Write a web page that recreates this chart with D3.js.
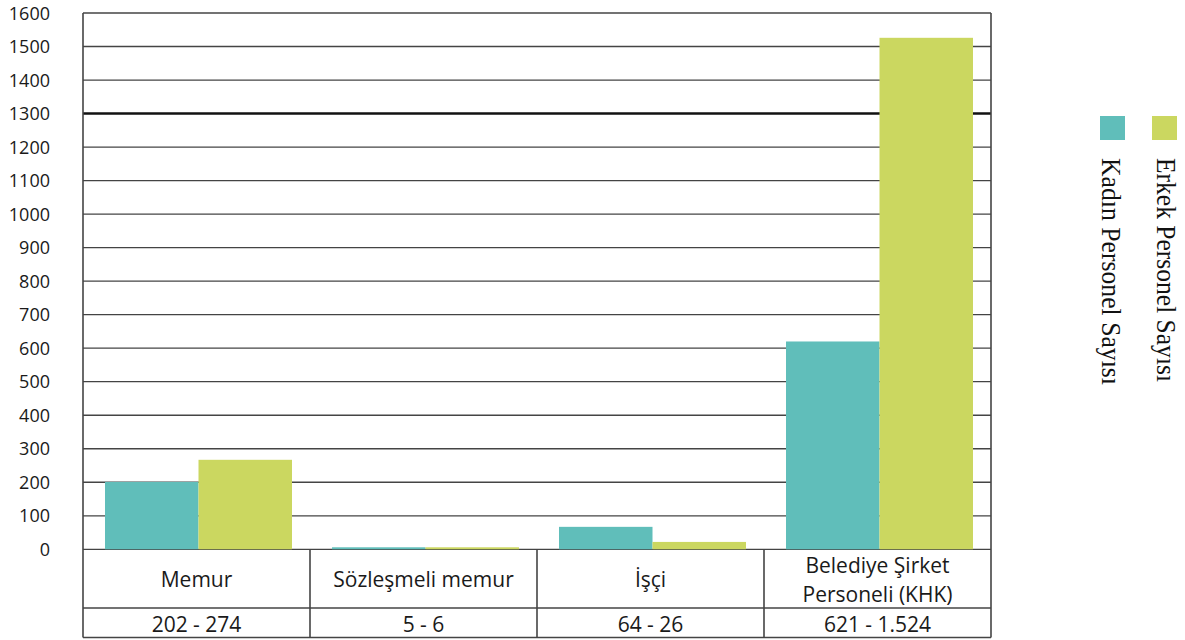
<!DOCTYPE html>
<html>
<head>
<meta charset="utf-8">
<script src="https://cdn.jsdelivr.net/npm/d3@7"></script>
<style>
  html, body { margin: 0; padding: 0; background: #fff; }
  svg { display: block; }
</style>
</head>
<body>
<svg id="chart" width="1185" height="640"></svg>
<script>
const categories = ["Memur", "Sözleşmeli memur", "İşçi", "Belediye Şirket Personeli (KHK)"];
const categoryLines = [["Memur"], ["Sözleşmeli memur"], ["İşçi"], ["Belediye Şirket", "Personeli (KHK)"]];
const kadin = [201, 6, 67, 620];
const erkek = [267, 6, 22, 1526];
const valueLabels = ["202 - 274", "5 - 6", "64 - 26", "621 - 1.524"];
const seriesNames = ["Kadın Personel Sayısı", "Erkek Personel Sayısı"];
const seriesColors = ["#60beba", "#cbd760"];
const yTicks = d3.range(0, 1601, 100);

(function () {
const svg = d3.select("#chart");
const plotLeft = 83, plotRight = 991, plotTop = 13, zeroY = 549.3;
const row1 = 608, row2 = 637.5;
const sans = "'Open Sans', 'Noto Sans', sans-serif";

const y = d3.scaleLinear().domain([0, 1600]).range([zeroY, plotTop]);
const x0 = d3.scaleBand().domain(categories).range([plotLeft, plotRight]).padding(0);
const x1 = d3.scaleBand().domain(seriesNames).range([2, x0.bandwidth() + 2]).paddingInner(0).paddingOuter(0.214);

// gridlines
svg.append("g").selectAll("line").data(yTicks).join("line")
  .attr("x1", plotLeft).attr("x2", plotRight)
  .attr("y1", d => y(d)).attr("y2", d => y(d))
  .attr("stroke", d => d === 1300 ? "#111" : "#444")
  .attr("stroke-width", d => d === 1300 ? 2.4 : 1.3);

// y tick labels
const yAxis = d3.axisLeft(y).tickValues(yTicks).tickSize(0).tickPadding(0).tickFormat(d3.format("d"));
const ya = svg.append("g").attr("transform", "translate(50,0)").call(yAxis);
ya.select(".domain").remove();
ya.selectAll("text").attr("font-family", sans).attr("font-size", 18).attr("fill", "#1a1a1a").attr("dy", "0.34em");

// bars
const data = categories.map((c, i) => ({ cat: c, vals: [kadin[i], erkek[i]] }));
const groups = svg.append("g").selectAll("g").data(data).join("g")
  .attr("transform", d => `translate(${x0(d.cat)},0)`);
groups.selectAll("rect").data(d => d.vals.map((v, j) => ({ s: seriesNames[j], v, j })))
  .join("rect")
  .attr("x", d => x1(d.s))
  .attr("width", x1.bandwidth())
  .attr("y", d => y(d.v))
  .attr("height", d => zeroY - y(d.v))
  .attr("fill", d => seriesColors[d.j]);

// frame & table
const lineCol = "#444";
svg.append("line").attr("x1", plotLeft).attr("x2", plotLeft).attr("y1", plotTop).attr("y2", row2).attr("stroke", lineCol).attr("stroke-width", 1.6);
svg.append("line").attr("x1", plotRight).attr("x2", plotRight).attr("y1", plotTop).attr("y2", row2).attr("stroke", lineCol).attr("stroke-width", 1.6);
[row1, row2].forEach(yy => svg.append("line").attr("x1", plotLeft).attr("x2", plotRight).attr("y1", yy).attr("y2", yy).attr("stroke", lineCol).attr("stroke-width", 1.4));
svg.append("g").selectAll("line").data(categories.slice(1)).join("line")
  .attr("x1", d => x0(d)).attr("x2", d => x0(d))
  .attr("y1", zeroY).attr("y2", row2)
  .attr("stroke", lineCol).attr("stroke-width", 1.6);

// category labels
categories.forEach((c, i) => {
  const lines = categoryLines[i];
  const cx = x0(c) + x0.bandwidth() / 2;
  const lh = 29;
  const cy0 = 580 - (lines.length - 1) * lh / 2;
  lines.forEach((t, k) => {
    svg.append("text").attr("x", cx).attr("y", cy0 + k * lh).attr("dy", "0.34em")
      .attr("text-anchor", "middle").attr("font-family", sans).attr("font-size", 21)
      .attr("fill", "#1a1a1a").text(t);
  });
  svg.append("text").attr("x", cx).attr("y", 624.5).attr("dy", "0.34em")
    .attr("text-anchor", "middle").attr("font-family", sans).attr("font-size", 21)
    .attr("fill", "#1a1a1a").text(valueLabels[i]);
});

// legend
const legX = [1100, 1152];
const baseX = [1102, 1157];
seriesNames.forEach((s, i) => {
  svg.append("rect").attr("x", legX[i]).attr("y", 116).attr("width", 25).attr("height", 24).attr("fill", seriesColors[i]);
  svg.append("text")
    .attr("transform", `translate(${baseX[i]},158) rotate(90)`)
    .attr("font-family", "'Liberation Serif', 'Times New Roman', serif")
    .attr("font-size", 26.5)
    .attr("fill", "#111")
    .attr("textLength", i === 0 ? 227 : 224)
    .attr("lengthAdjust", "spacingAndGlyphs")
    .text(s);
});
})();
</script>
</body>
</html>
